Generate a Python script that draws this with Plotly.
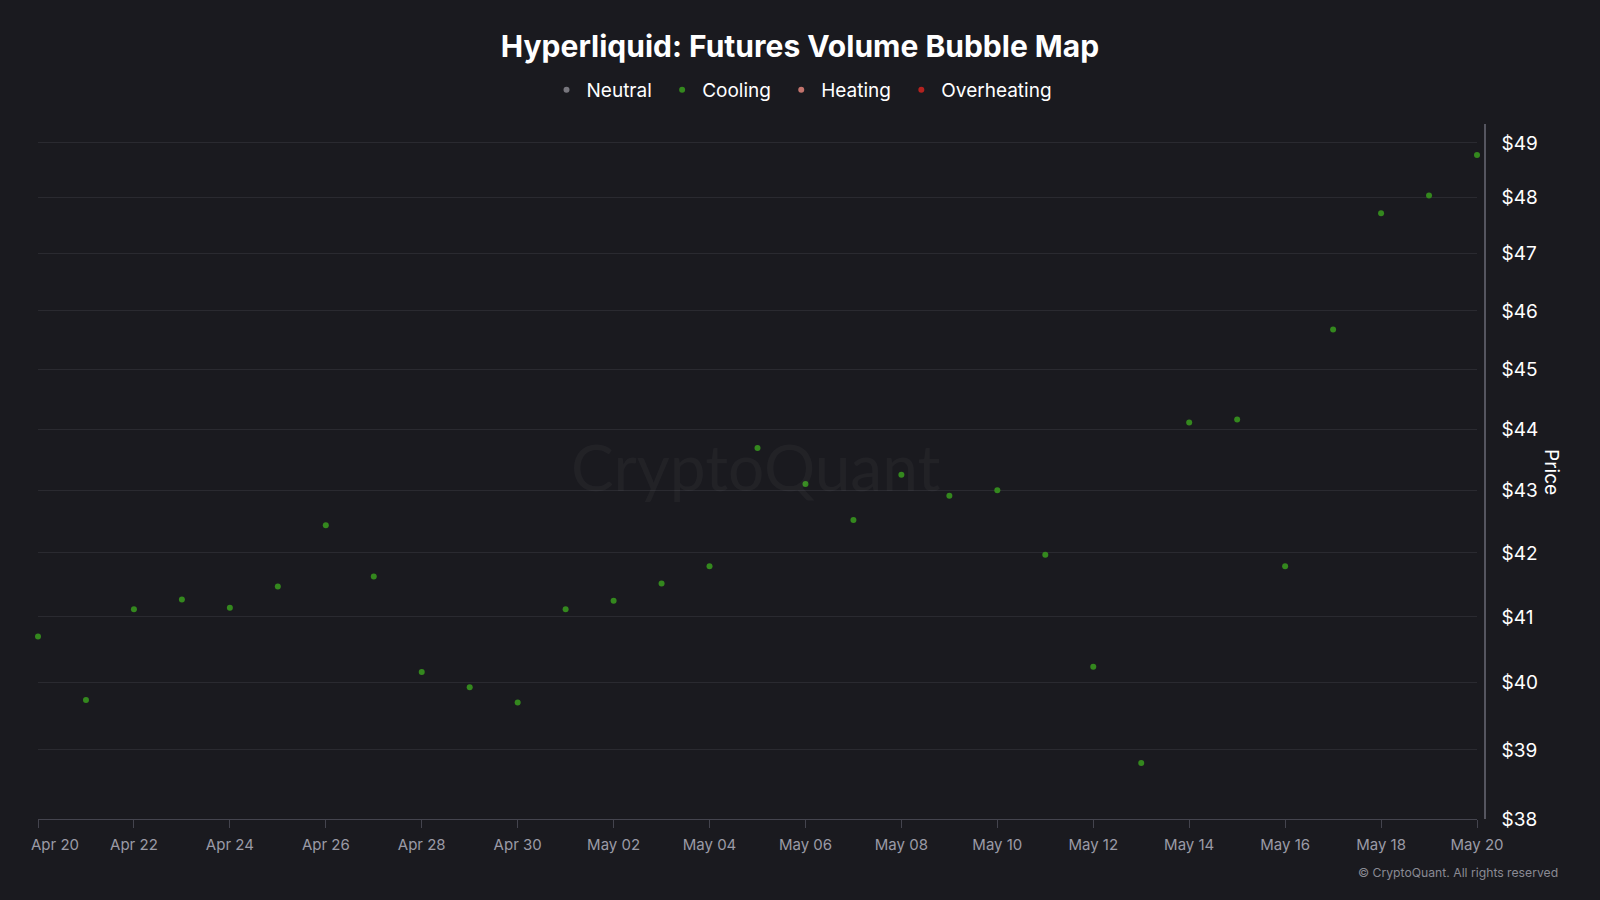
import plotly.graph_objects as go

dates = ["2026-04-20", "2026-04-21", "2026-04-22", "2026-04-23", "2026-04-24", "2026-04-25",
         "2026-04-26", "2026-04-27", "2026-04-28", "2026-04-29", "2026-04-30", "2026-05-01",
         "2026-05-02", "2026-05-03", "2026-05-04", "2026-05-05", "2026-05-06", "2026-05-07",
         "2026-05-08", "2026-05-09", "2026-05-10", "2026-05-11", "2026-05-12", "2026-05-13",
         "2026-05-14", "2026-05-15", "2026-05-16", "2026-05-17", "2026-05-18", "2026-05-19",
         "2026-05-20"]
price = [40.70, 39.74, 41.12, 41.27, 41.14, 41.47, 42.44, 41.63, 40.16, 39.93, 39.70, 41.12,
         41.25, 41.52, 41.79, 43.69, 43.10, 42.52, 43.25, 42.91, 43.00, 41.97, 40.24, 38.81,
         44.11, 44.16, 41.79, 45.68, 47.72, 48.04, 48.78]
x_tick_dates = dates[::2]
x_tick_labels = ["Apr 20", "Apr 22", "Apr 24", "Apr 26", "Apr 28", "Apr 30", "May 02", "May 04",
                 "May 06", "May 08", "May 10", "May 12", "May 14", "May 16", "May 18", "May 20"]
y_ticks = [38, 39, 40, 41, 42, 43, 44, 45, 46, 47, 48, 49]
y_tick_labels = ["$" + str(v) for v in y_ticks]

legend_names = ["Neutral", "Cooling", "Heating", "Overheating"]
legend_colors = ["#77767d", "#34881e", "#c2736c", "#b3221f"]

BG = "#1a1a1f"
FONT = "Inter, Roboto, sans-serif"
XTICK_FONT = dict(size=15, color="#9a9aa6", family=FONT)

# first date label is drawn separately, nudged right to stay inside the chart
x_tick_text = [""] + x_tick_labels[1:]

fig = go.Figure()
for i, (name, col) in enumerate(zip(legend_names, legend_colors)):
    label = name + ("\u00a0" if i < len(legend_names) - 1 else "")
    if name == "Cooling":
        fig.add_trace(go.Scatter(
            x=dates, y=price, mode="markers", name=label,
            marker=dict(color=col, size=6, line=dict(width=0)),
            cliponaxis=False, hoverinfo="skip"))
    else:
        fig.add_trace(go.Scatter(
            x=[None], y=[None], mode="markers", name=label,
            marker=dict(color=col, size=6, line=dict(width=0)),
            hoverinfo="skip"))

fig.update_layout(
    width=1600, height=900,
    paper_bgcolor=BG, plot_bgcolor=BG,
    margin=dict(l=38, r=115, t=124, b=81, autoexpand=False),
    font=dict(family=FONT, color="#ffffff"),
    title=dict(text="<b>Hyperliquid: Futures Volume Bubble Map</b>",
               x=0.5, xanchor="center", y=1 - 46 / 900, yanchor="middle",
               font=dict(size=30, color="#ffffff", family=FONT)),
    showlegend=True,
    legend=dict(orientation="h", x=0.528, xanchor="center", y=1.049, yanchor="middle",
                font=dict(size=19, color="#ffffff"), bgcolor="rgba(0,0,0,0)",
                itemclick=False, itemdoubleclick=False),
    hovermode=False,
    xaxis=dict(
        type="date",
        domain=[0, 1439 / 1447],
        range=["2026-04-20", "2026-05-20"],
        tickvals=x_tick_dates, ticktext=x_tick_text,
        showgrid=False, zeroline=False,
        showline=True, linecolor="#44444e", linewidth=1,
        ticks="outside", ticklen=8, tickcolor="#44444e",
        ticklabelstandoff=4, automargin=False,
        tickfont=XTICK_FONT,
    ),
    yaxis=dict(
        type="log",
        side="right", anchor="free", position=1,
        range=[1.579784, 1.693284],
        tickvals=y_ticks, ticktext=y_tick_labels,
        showgrid=True, gridcolor="#2a2a30", gridwidth=1,
        zeroline=False, automargin=False,
        showline=True, linecolor="#55555f", linewidth=1.5,
        ticks="", ticklabelstandoff=12,
        tickfont=dict(size=19, color="#ffffff"),
    ),
    annotations=[
        dict(text="CryptoQuant", xref="paper", yref="paper",
             x=(755 - 38) / 1447, y=(819 - 466) / 695, xanchor="center", yanchor="middle",
             showarrow=False, font=dict(size=64, color="rgba(255,255,255,0.035)", family="Lato, Inter, sans-serif")),
        dict(text=x_tick_labels[0], xref="x", yref="paper",
             x=x_tick_dates[0], xshift=17, y=(819 - 844) / 695, xanchor="center", yanchor="middle",
             showarrow=False, font=XTICK_FONT),
        dict(text="Price", xref="paper", yref="paper",
             x=(1551 - 38) / 1447, y=(819 - 472) / 695, xanchor="center", yanchor="middle",
             textangle=90, showarrow=False, font=dict(size=19, color="#ffffff")),
        dict(text="© CryptoQuant. All rights reserved", xref="paper", yref="paper",
             x=(1560 - 38) / 1447, y=(819 - 872) / 695, xanchor="right", yanchor="middle",
             showarrow=False, font=dict(size=12.2, color="#8a8a94")),
    ],
)

fig.write_html("out.html", config={"displayModeBar": False},
               post_script="document.body.style.margin='0';document.body.style.overflow='hidden';")
